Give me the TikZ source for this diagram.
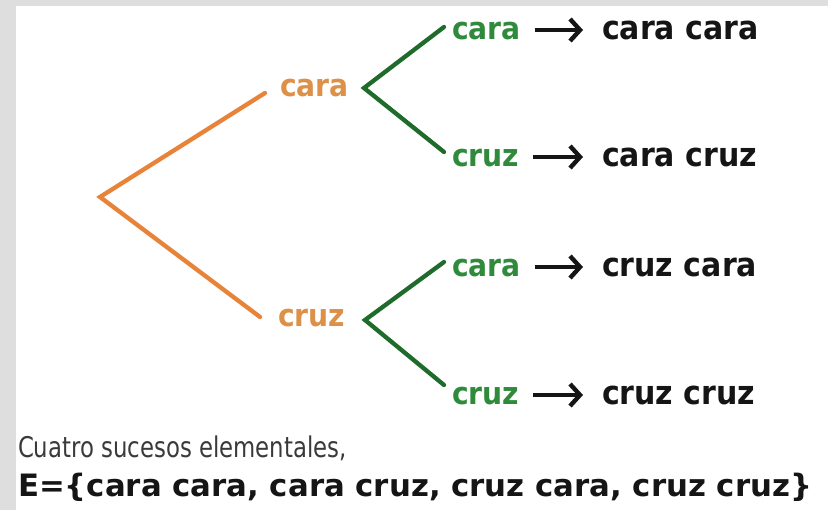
\documentclass[tikz,border=0pt]{standalone}
\usepackage{fontspec}
\usetikzlibrary{arrows.meta}
\setmainfont{DejaVu Sans}
\newfontfamily\treefont[FakeStretch=0.91]{DejaVu Sans}
\newfontfamily\regfont[FakeStretch=0.8]{DejaVu Sans}
\newfontfamily\botfont{DejaVu Sans}
\definecolor{bordergray}{HTML}{DEDEDE}
\definecolor{oline}{HTML}{E8833A}
\definecolor{otext}{HTML}{DD9047}
\definecolor{gline}{HTML}{1F6B2B}
\definecolor{gtext}{HTML}{2F8A3C}
\definecolor{rtext}{HTML}{151515}
\definecolor{ctext}{HTML}{3A3A3A}
\tikzset{
  lab/.style={anchor=base west, inner sep=0pt, outer sep=0pt},
  olab/.style={lab, text=otext, font=\treefont\bfseries\fontsize{31}{36}\selectfont},
  glab/.style={lab, text=gtext, font=\treefont\bfseries\fontsize{31}{36}\selectfont},
  res/.style={lab, text=rtext, font=\treefont\bfseries\fontsize{33}{38}\selectfont},
  oedge/.style={draw=oline, line width=4.3pt, line cap=round},
  gedge/.style={draw=gline, line width=4.3pt, line cap=round, line join=miter},
  arr/.style={draw=rtext, line width=4.4pt, -{Straight Barb[length=10pt,width=22pt,line width=4.4pt]}}
}
\begin{document}
\begin{tikzpicture}[x=1pt,y=-1pt]
\useasboundingbox (0,0) rectangle (828,510);
\fill[bordergray] (0,0) rectangle (828,510);
\fill[white] (16,6) rectangle (828,510);
% first level
\coordinate (root) at (100,197);
\node[olab] (oA) at (280,97) {cara};
\node[olab] (oB) at (278,327) {cruz};
\draw[oedge] ([xshift=-15pt,yshift=4pt]oA.base west) -- (root) -- ([xshift=-18pt,yshift=10pt]oB.base west);
% second level
\coordinate (vA) at (364,88);
\coordinate (vB) at (365,320);
\node[glab] (g1) at (452,40) {cara};
\node[glab] (g2) at (452,167) {cruz};
\node[glab] (g3) at (452,277) {cara};
\node[glab] (g4) at (452,405) {cruz};
\draw[gedge] ([xshift=-8pt,yshift=13pt]g1.base west) -- (vA) -- ([xshift=-8pt,yshift=15pt]g2.base west);
\draw[gedge] ([xshift=-8pt,yshift=15pt]g3.base west) -- (vB) -- ([xshift=-8pt,yshift=20pt]g4.base west);
% results
\node[res] (r1) at (602,40) {cara cara};
\node[res] (r2) at (602,167) {cara cruz};
\node[res] (r3) at (602,277) {cruz cara};
\node[res] (r4) at (602,405) {cruz cruz};
\foreach \g/\r in {g1/r1,g2/r2,g3/r3,g4/r4}{
  \draw[arr] ([xshift=14pt,yshift=10pt]\g.base east) -- ([xshift=-19pt,yshift=10pt]\r.base west);
}
% caption
\node[lab, text=ctext, font=\regfont\fontsize{28.5}{32}\selectfont] (cap) at (18,458) {Cuatro sucesos elementales,};
\node[lab, text=rtext, font=\botfont\bfseries\fontsize{30.8}{36}\selectfont] (set) at (18,497) {E=\{cara cara, cara cruz, cruz cara, cruz cruz\}};
\end{tikzpicture}
\end{document}
